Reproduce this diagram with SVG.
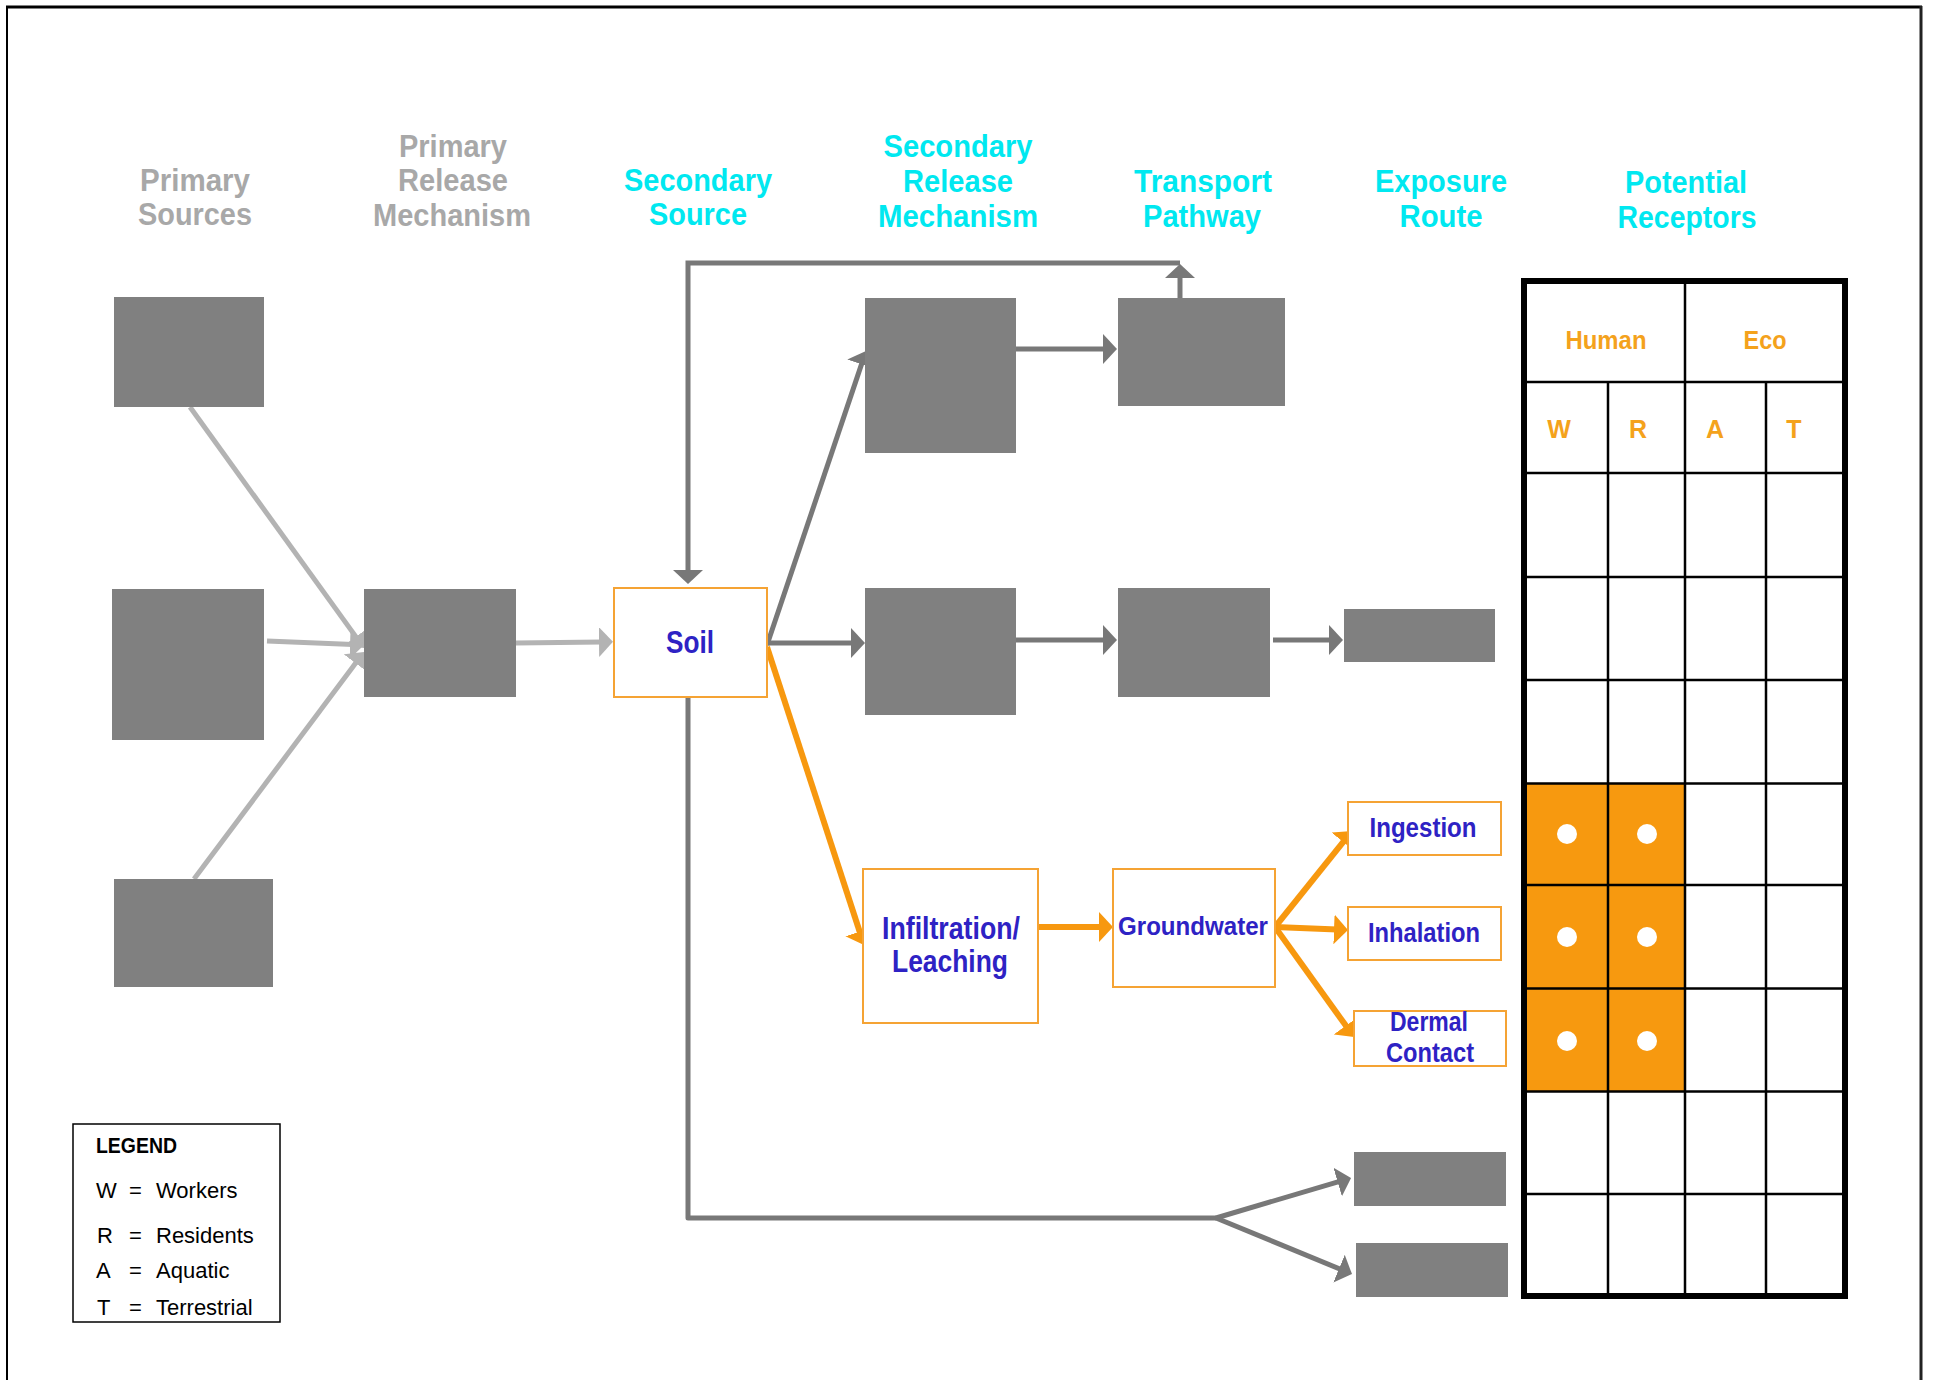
<svg xmlns="http://www.w3.org/2000/svg" width="1933" height="1380" viewBox="0 0 1933 1380">
<style>
.hdr{font-family:"Liberation Sans",Arial,sans-serif;font-weight:bold;font-size:32px;text-anchor:middle}
.g{fill:#a8a8a8}
.c{fill:#00e8f0}
.blk{fill:#808080}
.obox{fill:#ffffff;stroke:#f5a334;stroke-width:2}
.lbl{font-family:"Liberation Sans",Arial,sans-serif;font-weight:bold;fill:#2e22c4;text-anchor:middle}
.dk{fill:none;stroke:#787878;stroke-width:5}
.lt{fill:none;stroke:#b3b3b3;stroke-width:5}
.or{fill:none;stroke:#f7980f;stroke-width:6}
.tl{stroke:#000;stroke-width:2.5}
.th{font-family:"Liberation Sans",Arial,sans-serif;font-weight:bold;fill:#f4a21c;text-anchor:middle;font-size:25px}
.leg{font-family:"Liberation Sans",Arial,sans-serif;font-size:22px;fill:#000}
</style>
<defs>
<marker id="ad" viewBox="0 0 14 30" markerWidth="14" markerHeight="30" refX="3" refY="15" orient="auto" markerUnits="userSpaceOnUse"><path d="M0,0 L14,15 L0,30 Z" fill="#787878"/></marker>
<marker id="al" viewBox="0 0 14 30" markerWidth="14" markerHeight="30" refX="3" refY="15" orient="auto" markerUnits="userSpaceOnUse"><path d="M0,0 L14,15 L0,30 Z" fill="#b3b3b3"/></marker>
<marker id="ao" viewBox="0 0 14 30" markerWidth="14" markerHeight="30" refX="3" refY="15" orient="auto" markerUnits="userSpaceOnUse"><path d="M0,0 L14,15 L0,30 Z" fill="#f7980f"/></marker>
</defs>
<rect width="1933" height="1380" fill="#ffffff"/>
<g id="frame" fill="none" stroke="#000">
<line x1="6" y1="7" x2="1922" y2="7" stroke-width="3"/>
<line x1="7" y1="6" x2="7" y2="1380" stroke-width="2"/>
<line x1="1921" y1="6" x2="1921" y2="1380" stroke-width="3" stroke="#222"/>
</g>
<g id="headers">
<text class="hdr g"><tspan x="195" y="191" textLength="110" lengthAdjust="spacingAndGlyphs">Primary</tspan><tspan x="195" y="225" textLength="114" lengthAdjust="spacingAndGlyphs">Sources</tspan></text>
<text class="hdr g"><tspan x="453" y="157" textLength="108" lengthAdjust="spacingAndGlyphs">Primary</tspan><tspan x="453" y="191" textLength="110" lengthAdjust="spacingAndGlyphs">Release</tspan><tspan x="452" y="226" textLength="158" lengthAdjust="spacingAndGlyphs">Mechanism</tspan></text>
<text class="hdr c"><tspan x="698" y="191" textLength="148" lengthAdjust="spacingAndGlyphs">Secondary</tspan><tspan x="698" y="225" textLength="98" lengthAdjust="spacingAndGlyphs">Source</tspan></text>
<text class="hdr c"><tspan x="958" y="157" textLength="149" lengthAdjust="spacingAndGlyphs">Secondary</tspan><tspan x="958" y="192" textLength="110" lengthAdjust="spacingAndGlyphs">Release</tspan><tspan x="958" y="227" textLength="160" lengthAdjust="spacingAndGlyphs">Mechanism</tspan></text>
<text class="hdr c"><tspan x="1203" y="192" textLength="138" lengthAdjust="spacingAndGlyphs">Transport</tspan><tspan x="1202" y="227" textLength="118" lengthAdjust="spacingAndGlyphs">Pathway</tspan></text>
<text class="hdr c"><tspan x="1441" y="192" textLength="132" lengthAdjust="spacingAndGlyphs">Exposure</tspan><tspan x="1441" y="227" textLength="83" lengthAdjust="spacingAndGlyphs">Route</tspan></text>
<text class="hdr c"><tspan x="1686" y="193" textLength="122" lengthAdjust="spacingAndGlyphs">Potential</tspan><tspan x="1687" y="228" textLength="139" lengthAdjust="spacingAndGlyphs">Receptors</tspan></text>
</g>
<g id="connectors">
<path class="lt" d="M190,407 L357.6,639.1" marker-end="url(#al)"/>
<path class="lt" d="M267,641 L353,644.5" marker-end="url(#al)"/>
<path class="lt" d="M194,879 L357.4,660.8" marker-end="url(#al)"/>
<path class="lt" d="M516,643 L602,642" marker-end="url(#al)"/>
<path class="dk" d="M1180,263 L688,263 L688,573" marker-end="url(#ad)"/>
<path class="dk" d="M1180,298 L1180,275" marker-end="url(#ad)"/>
<path class="dk" d="M767,645 L862.5,361.4" marker-end="url(#ad)"/>
<path class="dk" d="M767,643 L854,643" marker-end="url(#ad)"/>
<path class="dk" d="M1016,349 L1106,349" marker-end="url(#ad)"/>
<path class="dk" d="M1016,640 L1106,640" marker-end="url(#ad)"/>
<path class="dk" d="M1273,640 L1332,640" marker-end="url(#ad)"/>
<path class="dk" d="M688,692 L688,1218 L1216,1218" stroke-linejoin="round"/>
<path class="dk" d="M1216,1218 L1340.5,1181.1" marker-end="url(#ad)"/>
<path class="dk" d="M1216,1218 L1341.8,1269.8" marker-end="url(#ad)"/>
<path class="or" d="M767,647 L860.6,934.5" marker-end="url(#ao)"/>
<path class="or" d="M1038,927 L1102,927" marker-end="url(#ao)"/>
<path class="or" d="M1275,927 L1345.1,839.6" marker-end="url(#ao)"/>
<path class="or" d="M1275,927 L1337,929.5" marker-end="url(#ao)"/>
<path class="or" d="M1275,927 L1347.6,1028.1" marker-end="url(#ao)"/>
</g>
<g id="primary-source-1"><rect class="blk" x="114" y="297" width="150" height="110"/></g>
<g id="primary-source-2"><rect class="blk" x="112" y="589" width="152" height="151"/></g>
<g id="primary-source-3"><rect class="blk" x="114" y="879" width="159" height="108"/></g>
<g id="primary-release"><rect class="blk" x="364" y="589" width="152" height="108"/></g>
<g id="soil"><rect class="obox" x="614" y="588" width="153" height="109"/><text class="lbl" x="690" y="653" font-size="32" textLength="48" lengthAdjust="spacingAndGlyphs">Soil</text></g>
<g id="secondary-release-1"><rect class="blk" x="865" y="298" width="151" height="155"/></g>
<g id="secondary-release-2"><rect class="blk" x="865" y="588" width="151" height="127"/></g>
<g id="transport-1"><rect class="blk" x="1118" y="298" width="167" height="108"/></g>
<g id="transport-2"><rect class="blk" x="1118" y="588" width="152" height="109"/></g>
<g id="exposure-1"><rect class="blk" x="1344" y="609" width="151" height="53"/></g>
<g id="exposure-bottom-1"><rect class="blk" x="1354" y="1152" width="152" height="54"/></g>
<g id="exposure-bottom-2"><rect class="blk" x="1356" y="1243" width="152" height="54"/></g>
<g id="infiltration"><rect class="obox" x="863" y="869" width="175" height="154"/><text class="lbl" font-size="31"><tspan x="951" y="939" textLength="138" lengthAdjust="spacingAndGlyphs">Infiltration/</tspan><tspan x="950" y="972" textLength="116" lengthAdjust="spacingAndGlyphs">Leaching</tspan></text></g>
<g id="groundwater"><rect class="obox" x="1113" y="869" width="162" height="118"/><text class="lbl" x="1193" y="935" font-size="26" textLength="150" lengthAdjust="spacingAndGlyphs">Groundwater</text></g>
<g id="ingestion"><rect class="obox" x="1348" y="802" width="153" height="53"/><text class="lbl" x="1423" y="837" font-size="28" textLength="107" lengthAdjust="spacingAndGlyphs">Ingestion</text></g>
<g id="inhalation"><rect class="obox" x="1348" y="907" width="153" height="53"/><text class="lbl" x="1424" y="942" font-size="28" textLength="112" lengthAdjust="spacingAndGlyphs">Inhalation</text></g>
<g id="dermal"><rect class="obox" x="1354" y="1011" width="152" height="55"/><text class="lbl" font-size="27"><tspan x="1429" y="1031" textLength="78" lengthAdjust="spacingAndGlyphs">Dermal</tspan><tspan x="1430" y="1062" textLength="88" lengthAdjust="spacingAndGlyphs">Contact</tspan></text></g>
<g id="receptor-table">
<rect x="1526" y="783.5" width="159" height="308" fill="#f7990f"/>
<g fill="#ffffff"><circle cx="1567" cy="834" r="10"/><circle cx="1647" cy="834" r="10"/><circle cx="1567" cy="937" r="10"/><circle cx="1647" cy="937" r="10"/><circle cx="1567" cy="1041" r="10"/><circle cx="1647" cy="1041" r="10"/></g>
<line class="tl" x1="1685" y1="281" x2="1685" y2="1296"/>
<line class="tl" x1="1608" y1="382" x2="1608" y2="1296"/>
<line class="tl" x1="1766" y1="382" x2="1766" y2="1296"/>
<line class="tl" x1="1524" y1="382" x2="1845" y2="382"/>
<line class="tl" x1="1524" y1="473" x2="1845" y2="473"/>
<line class="tl" x1="1524" y1="577" x2="1845" y2="577"/>
<line class="tl" x1="1524" y1="680" x2="1845" y2="680"/>
<line class="tl" x1="1524" y1="783.5" x2="1845" y2="783.5"/>
<line class="tl" x1="1524" y1="885" x2="1845" y2="885"/>
<line class="tl" x1="1524" y1="988.5" x2="1845" y2="988.5"/>
<line class="tl" x1="1524" y1="1091.5" x2="1845" y2="1091.5"/>
<line class="tl" x1="1524" y1="1194" x2="1845" y2="1194"/>
<rect x="1524" y="281" width="321" height="1015" fill="none" stroke="#000" stroke-width="6"/>
<text class="th" x="1606" y="349" textLength="81" lengthAdjust="spacingAndGlyphs">Human</text>
<text class="th" x="1765" y="349" textLength="43" lengthAdjust="spacingAndGlyphs">Eco</text>
<text class="th" x="1559" y="438">W</text>
<text class="th" x="1638" y="438">R</text>
<text class="th" x="1715" y="438">A</text>
<text class="th" x="1794" y="438">T</text>
</g>
<g id="legend">
<rect x="73" y="1124" width="207" height="198" fill="#ffffff" stroke="#000" stroke-width="1.5"/>
<text class="leg" x="96" y="1153" font-weight="bold" font-size="23" textLength="81" lengthAdjust="spacingAndGlyphs">LEGEND</text>
<text class="leg"><tspan x="96" y="1198">W</tspan><tspan x="129" y="1198">=</tspan><tspan x="156" y="1198">Workers</tspan></text>
<text class="leg"><tspan x="97" y="1243">R</tspan><tspan x="129" y="1243">=</tspan><tspan x="156" y="1243">Residents</tspan></text>
<text class="leg"><tspan x="96" y="1278">A</tspan><tspan x="129" y="1278">=</tspan><tspan x="156" y="1278">Aquatic</tspan></text>
<text class="leg"><tspan x="97" y="1315">T</tspan><tspan x="129" y="1315">=</tspan><tspan x="156" y="1315">Terrestrial</tspan></text>
</g>
</svg>
